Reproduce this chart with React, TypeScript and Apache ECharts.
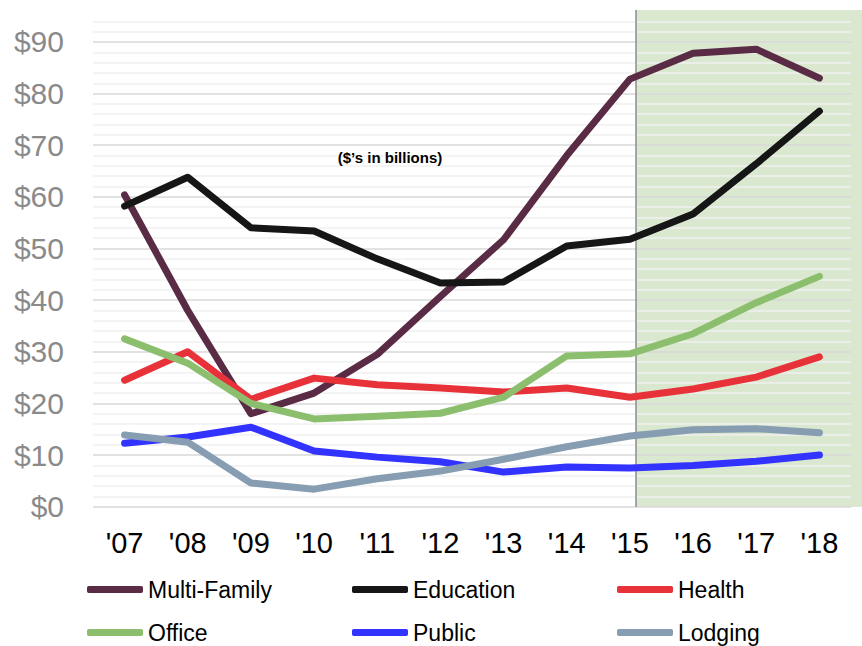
import React, { useEffect, useRef } from "react";
import * as echarts from "echarts";

const categories = ["'07", "'08", "'09", "'10", "'11", "'12", "'13", "'14", "'15", "'16", "'17", "'18"];
const multiFamily = [60.4, 38, 18, 22, 29.5, 40.7, 51.7, 68, 82.8, 87.8, 88.6, 83];
const education = [58.2, 63.8, 54, 53.4, 48, 43.3, 43.5, 50.5, 51.8, 56.7, 66.4, 76.6];
const health = [24.5, 30, 20.8, 24.9, 23.6, 23, 22.2, 23, 21.2, 22.8, 25.1, 29];
const office = [32.5, 27.8, 20, 17, 17.5, 18.1, 21.2, 29.2, 29.6, 33.5, 39.5, 44.6];
const publicSeries = [12.3, 13.5, 15.4, 10.8, 9.6, 8.7, 6.7, 7.7, 7.5, 8, 8.8, 10];
const lodging = [13.9, 12.5, 4.6, 3.4, 5.4, 6.9, 9.2, 11.6, 13.7, 14.9, 15.1, 14.3];

const seriesNames = ["Multi-Family", "Education", "Health", "Office", "Public", "Lodging"];
const seriesData = [multiFamily, education, health, office, publicSeries, lodging];
const seriesColors = ["#5a2b45", "#161616", "#e8323a", "#8bbf6e", "#3333ff", "#869db2"];
const legendPos = [
  [87, 578],
  [352, 578],
  [617, 578],
  [87, 621],
  [352, 621],
  [617, 621],
];

export default function App() {
  const ref = useRef<HTMLDivElement>(null);
  useEffect(() => {
    const chart = echarts.init(ref.current!, null, { renderer: "svg" });
    const font = "'Liberation Sans', Arial, sans-serif";
    chart.setOption({
      animation: false,
      textStyle: { fontFamily: font },
      grid: { left: 93, right: 11, top: 21.3, bottom: 139.3, containLabel: false },
      xAxis: {
        type: "category",
        data: categories,
        boundaryGap: true,
        axisLine: { show: false },
        axisTick: { show: false },
        axisLabel: { fontSize: 29, color: "#000", margin: 22, fontFamily: font },
        splitLine: { show: false },
      },
      yAxis: {
        type: "value",
        min: 0,
        max: 94,
        interval: 2,
        axisLine: { show: false },
        axisTick: { show: false },
        axisLabel: {
          fontSize: 30,
          color: "#8a8a8a",
          margin: 29,
          fontFamily: font,
          formatter: (v: number) => (v % 10 === 0 ? "$" + v : ""),
        },
        splitLine: {
          show: true,
          lineStyle: {
            color: ["#d9d9d9", "#f0f0f0", "#f0f0f0", "#f0f0f0", "#f0f0f0"],
            width: 1.5,
          },
        },
      },
      legend: seriesNames.map((n, i) => ({
        data: [n],
        left: legendPos[i][0],
        top: legendPos[i][1],
        padding: 0,
        icon: "roundRect",
        itemWidth: 56,
        itemHeight: 7,
        textStyle: { fontSize: 23, color: "#000", fontFamily: font },
      })),
      graphic: [
        {
          type: "rect",
          z: -10,
          shape: { x: 636, y: 10, width: 226, height: 497 },
          style: { fill: "#d9e8cf" },
          silent: true,
        },
        {
          type: "line",
          shape: { x1: 636, y1: 10, x2: 636, y2: 507 },
          style: { stroke: "#8c8c8c", lineWidth: 1.5 },
          z: 1,
          silent: true,
        },
        {
          type: "text",
          x: 390,
          y: 157,
          style: {
            text: "($\u2019s in billions)",
            font: "bold 15px 'Liberation Sans', Arial, sans-serif",
            fill: "#000",
            align: "center",
            verticalAlign: "middle",
          },
          z: 5,
        },
      ],
      series: seriesNames.map((n, i) => ({
        name: n,
        type: "line",
        data: seriesData[i],
        symbol: "none",
        lineStyle: { width: 7, color: seriesColors[i], cap: "round", join: "round" },
        itemStyle: { color: seriesColors[i] },
        z: 3,
      })),
    });
    return () => chart.dispose();
  }, []);
  return <div ref={ref} style={{ width: 862, height: 646, position: "absolute", left: 0, top: 0 }} />;
}
